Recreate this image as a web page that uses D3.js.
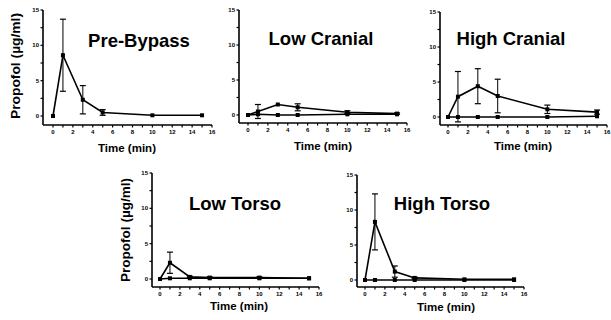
<!DOCTYPE html>
<html><head><meta charset="utf-8">
<script src="https://cdn.jsdelivr.net/npm/d3@7"></script>
<style>
body{margin:0;background:#fff;}
svg{display:block;font-family:"Liberation Sans",Arial,sans-serif;}
</style></head>
<body>
<svg id="c" width="611" height="320"></svg>
<script>
const times = [0, 1, 3, 5, 10, 15];
const panelTitles = ["Pre-Bypass", "Low Cranial", "High Cranial", "Low Torso", "High Torso"];
const xTicks = [0, 2, 4, 6, 8, 10, 12, 14, 16];
const yTicks = [0, 5, 10, 15];
const yLabel = "Propofol (µg/ml)";
const xLabel = "Time (min)";

// main series (mean) and error (SD) per panel
const preBypassMean = [0, 8.6, 2.3, 0.5, 0.1, 0.1];
const preBypassErr  = [0, 5.1, 2.0, 0.4, 0, 0];
const lowCranialMean = [0, 0.5, 1.5, 1.1, 0.4, 0.2];
const lowCranialErr  = [0, 1.0, 0, 0.5, 0.2, 0.1];
const lowCranialBase = [0, 0.1, 0.0, 0.0, 0.1, 0.1];
const highCranialMean = [0, 2.9, 4.4, 3.0, 1.1, 0.7];
const highCranialErr  = [0, 3.6, 2.5, 2.4, 0.6, 0.3];
const highCranialBase = [0, 0, 0, 0, 0, 0.1];
const lowTorsoMean = [0, 2.3, 0.3, 0.2, 0.2, 0.1];
const lowTorsoErr  = [0, 1.5, 0.1, 0.1, 0.1, 0];
const lowTorsoBase = [0, 0.1, 0.1, 0.1, 0.1, 0.1];
const highTorsoMean = [0, 8.3, 1.2, 0.3, 0.1, 0.1];
const highTorsoErr  = [0, 4.0, 0.8, 0.1, 0, 0];
const highTorsoBase = [0, 0, 0, 0, 0, 0];

const panels = [
  {title: panelTitles[0], mean: preBypassMean, err: preBypassErr, base: null,
   ax: 43, ay: 125, x0: 53, x1: 212, y0: 116, y1: 10, tx: 139, ty: 47, lx: 20, ly: 66, ll: 106, bx: 127, by: 152},
  {title: panelTitles[1], mean: lowCranialMean, err: lowCranialErr, base: lowCranialBase,
   ax: 239, ay: 123, x0: 248, x1: 407, y0: 115, y1: 10, tx: 321, ty: 45, bx: 323, by: 150},
  {title: panelTitles[2], mean: highCranialMean, err: highCranialErr, base: highCranialBase,
   ax: 440, ay: 125, x0: 448, x1: 607, y0: 117, y1: 12, tx: 511, ty: 45, bx: 523, by: 150},
  {title: panelTitles[3], mean: lowTorsoMean, err: lowTorsoErr, base: lowTorsoBase,
   ax: 152, ay: 287, x0: 160, x1: 319, y0: 279, y1: 173, tx: 235, ty: 210, lx: 130, ly: 230, ll: 104, bx: 239, by: 310},
  {title: panelTitles[4], mean: highTorsoMean, err: highTorsoErr, base: highTorsoBase,
   ax: 357, ay: 287, x0: 365, x1: 524, y0: 280, y1: 175, tx: 442, ty: 210, bx: 446, by: 311}
];

const svg = d3.select("#c");

panels.forEach(p => {
  const g = svg.append("g");
  const x = d3.scaleLinear().domain([0, 16]).range([p.x0, p.x1]);
  const y = d3.scaleLinear().domain([0, 15]).range([p.y0, p.y1]);

  // axes lines
  g.append("line").attr("x1", p.ax).attr("x2", p.ax).attr("y1", p.y1).attr("y2", p.ay)
    .attr("stroke", "#000").attr("stroke-width", 1.6);
  g.append("line").attr("x1", p.ax).attr("x2", x(16)).attr("y1", p.ay).attr("y2", p.ay)
    .attr("stroke", "#000").attr("stroke-width", 1.6);

  // y ticks (major + minor)
  const yMinor = d3.range(0, 15.01, 2.5);
  g.selectAll(".ym").data(yMinor).join("line")
    .attr("x1", p.ax - 2.5).attr("x2", p.ax).attr("y1", d => y(d)).attr("y2", d => y(d))
    .attr("stroke", "#000").attr("stroke-width", 1.2);
  g.selectAll(".yl").data(yTicks).join("text")
    .attr("x", p.ax - 4).attr("y", d => y(d) + 2)
    .attr("text-anchor", "end").attr("font-size", 6).attr("font-weight", "bold")
    .text(d => d);

  // x ticks
  const xMinor = d3.range(0, 16.01, 1);
  g.selectAll(".xm").data(xMinor).join("line")
    .attr("x1", d => x(d)).attr("x2", d => x(d)).attr("y1", p.ay).attr("y2", p.ay + 2.5)
    .attr("stroke", "#000").attr("stroke-width", 1.2);
  g.selectAll(".xl").data(xTicks).join("text")
    .attr("x", d => x(d)).attr("y", p.ay + 9)
    .attr("text-anchor", "middle").attr("font-size", 6).attr("font-weight", "bold")
    .text(d => d);

  const line = d3.line().x((d, i) => x(times[i])).y(d => y(d));

  // baseline series
  if (p.base) {
    g.append("path").attr("d", line(p.base)).attr("fill", "none")
      .attr("stroke", "#000").attr("stroke-width", 1.6);
    g.selectAll(".bm").data(p.base).join("rect")
      .attr("x", (d, i) => x(times[i]) - 2).attr("y", d => y(d) - 2)
      .attr("width", 4).attr("height", 4).attr("fill", "#000");
  }

  // error bars
  p.mean.forEach((m, i) => {
    const e = p.err[i];
    if (!e) return;
    const cx = x(times[i]);
    g.append("line").attr("x1", cx).attr("x2", cx).attr("y1", y(m + e)).attr("y2", y(m - e))
      .attr("stroke", "#000").attr("stroke-width", 1);
    [m + e, m - e].forEach(v => {
      g.append("line").attr("x1", cx - 3).attr("x2", cx + 3).attr("y1", y(v)).attr("y2", y(v))
        .attr("stroke", "#000").attr("stroke-width", 1.2);
    });
  });

  // main series
  g.append("path").attr("d", line(p.mean)).attr("fill", "none")
    .attr("stroke", "#000").attr("stroke-width", 1.6);
  g.selectAll(".mm").data(p.mean).join("rect")
    .attr("x", (d, i) => x(times[i]) - 2).attr("y", d => y(d) - 2)
    .attr("width", 4).attr("height", 4).attr("fill", "#000");

  // title
  g.append("text").attr("x", p.tx).attr("y", p.ty).attr("text-anchor", "middle")
    .attr("font-size", 18.5).attr("font-weight", "bold").text(p.title);

  // x label
  g.append("text").attr("x", p.bx).attr("y", p.by).attr("text-anchor", "middle")
    .attr("font-size", 11.5).attr("font-weight", "bold").text(xLabel);

  // y label
  if (p.lx !== undefined) {
    g.append("text").attr("transform", `translate(${p.lx},${p.ly}) rotate(-90)`)
      .attr("text-anchor", "middle").attr("font-size", 12).attr("font-weight", "bold")
      .attr("textLength", p.ll).attr("lengthAdjust", "spacingAndGlyphs")
      .text(yLabel);
  }
});
</script>
</body></html>
